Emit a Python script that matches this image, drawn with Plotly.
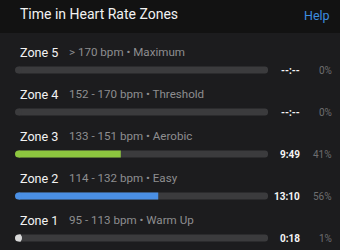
import plotly.graph_objects as go

W, H = 340, 250
zones = ["Zone 5", "Zone 4", "Zone 3", "Zone 2", "Zone 1"]
zone_num = [5, 4, 3, 2, 1]
ranges = ["> 170 bpm • Maximum", "152 - 170 bpm • Threshold", "133 - 151 bpm • Aerobic",
          "114 - 132 bpm • Easy", "95 - 113 bpm • Warm Up"]
percent = [0, 0, 41, 56, 1]
times = ["--:--", "--:--", "9:49", "13:10", "0:18"]
pct_labels = ["0%", "0%", "41%", "56%", "1%"]
fill_colors = ["#8dc63f", "#8dc63f", "#8dc63f", "#4a8fe4", "#d9d9d9"]
TRACK = "#3b3b3d"

FONT = "Roboto"
fig = go.Figure()
# track
fig.add_trace(go.Bar(
    y=zone_num, x=[100] * len(zones), orientation="h", width=0.17,
    marker=dict(color=TRACK, cornerradius=4, line=dict(width=0)),
    hoverinfo="skip", showlegend=False))
# round left caps
cap_colors = [c if p > 0 else TRACK for c, p in zip(fill_colors, percent)]
fig.add_trace(go.Scatter(
    y=zone_num, x=[0] * len(zones), mode="markers", cliponaxis=False,
    marker=dict(color=cap_colors, size=7, line=dict(width=0)),
    hoverinfo="skip", showlegend=False))
# fill
fig.add_trace(go.Bar(
    y=zone_num, x=percent, orientation="h", width=0.17,
    marker=dict(color=fill_colors, cornerradius=4, line=dict(width=0)),
    hoverinfo="skip", showlegend=False))

x0, x1 = 18.5 / W, 268 / W
annotations = []
for z, n, r, t, p in zip(zones, zone_num, ranges, times, pct_labels):
    annotations.append(dict(x=18 / W, xref="paper", y=n, yref="y", yshift=18, text=z,
                            xanchor="left", yanchor="middle", showarrow=False,
                            font=dict(family=FONT, size=12.6, color="#f2f2f2")))
    annotations.append(dict(x=67 / W, xref="paper", y=n, yref="y", yshift=18, text=r,
                            xanchor="left", yanchor="middle", showarrow=False,
                            font=dict(family=FONT, size=11.6, color="#8e8e90")))
    annotations.append(dict(x=302 / W, xref="paper", y=n, yref="y", text=f"<b>{t}</b>",
                            xanchor="right", yanchor="middle", showarrow=False,
                            font=dict(family=FONT, size=10, color="#f5f5f5")))
    annotations.append(dict(x=334 / W, xref="paper", y=n, yref="y", text=p,
                            xanchor="right", yanchor="middle", showarrow=False,
                            font=dict(family=FONT, size=10, color="#6e6e70")))

annotations.append(dict(x=18 / W, xref="paper", y=1 - 14 / H, yref="paper",
                        text="Time in Heart Rate Zones", xanchor="left", yanchor="middle",
                        showarrow=False, font=dict(family=FONT, size=14, color="#f2f2f2")))
annotations.append(dict(x=332 / W, xref="paper", y=1 - 15 / H, yref="paper",
                        text="Help", xanchor="right", yanchor="middle",
                        showarrow=False, font=dict(family=FONT, size=12.5, color="#3d8ee0")))

fig.update_layout(
    width=W, height=H, margin=dict(l=0, r=0, t=0, b=0),
    paper_bgcolor="#1c1c1e", plot_bgcolor="rgba(0,0,0,0)",
    barmode="overlay",
    xaxis=dict(domain=[x0, x1], range=[0, 100], visible=False, fixedrange=True),
    yaxis=dict(domain=[0, 1], range=[1 - 12 / 42, 1 + 238 / 42], visible=False, fixedrange=True),
    shapes=[dict(type="rect", xref="paper", yref="paper", x0=0, x1=1, y0=1 - 33 / H, y1=1,
                 fillcolor="#121212", line=dict(width=0), layer="below")],
    annotations=annotations,
)
fig.write_html("out.html")
